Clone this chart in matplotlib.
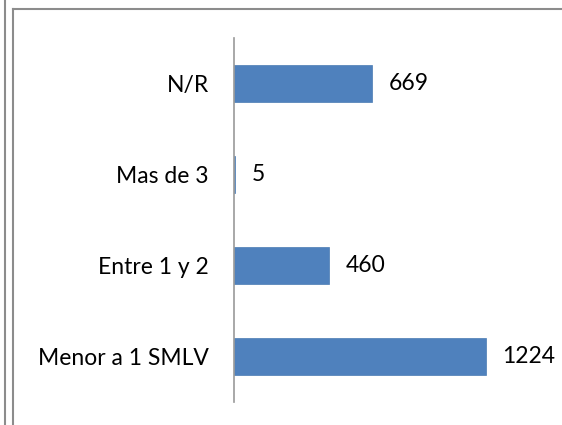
import matplotlib.pyplot as plt
from matplotlib.lines import Line2D

categorias = ["Menor a 1 SMLV", "Entre 1 y 2", "Mas de 3", "N/R"]
valores = [1224, 460, 5, 669]

plt.rcParams['font.family'] = ['Lato', 'DejaVu Sans']

fig = plt.figure(figsize=(5.62, 4.25), dpi=100)
ax = fig.add_axes([234 / 562, 23 / 425, 288 / 562, 364 / 425])

pos = range(len(categorias))
ax.barh(pos, valores, height=0.4, color="#4f81bd", edgecolor="#4a7bb3", linewidth=0.5)
for p, v in zip(pos, valores):
    ax.annotate(str(v), (v, p), xytext=(12, 0), textcoords="offset points",
                va="center", ha="left", fontsize=16.5, color="#000000")

ax.set_yticks(list(pos))
ax.set_yticklabels(categorias, fontsize=16.5)
ax.tick_params(axis="y", length=0, pad=18)
ax.set_xticks([])
ax.set_xlim(0, 1400)
ax.set_ylim(-0.5, 3.5)
for s in ["top", "right", "bottom"]:
    ax.spines[s].set_visible(False)
ax.spines["left"].set_color("#999999")
ax.spines["left"].set_linewidth(1.2)

# marco
gris = "#8c8c8c"
fig.add_artist(Line2D([4.5 / 562, 4.5 / 562], [0, 1], transform=fig.transFigure, color=gris, lw=1.5))
fig.add_artist(Line2D([12.5 / 562, 12.5 / 562], [0, 1 - 8.5 / 425], transform=fig.transFigure, color=gris, lw=1.5))
fig.add_artist(Line2D([12.5 / 562, 1], [1 - 8.5 / 425, 1 - 8.5 / 425], transform=fig.transFigure, color=gris, lw=1.5))

fig.savefig("out.png", dpi=100)
